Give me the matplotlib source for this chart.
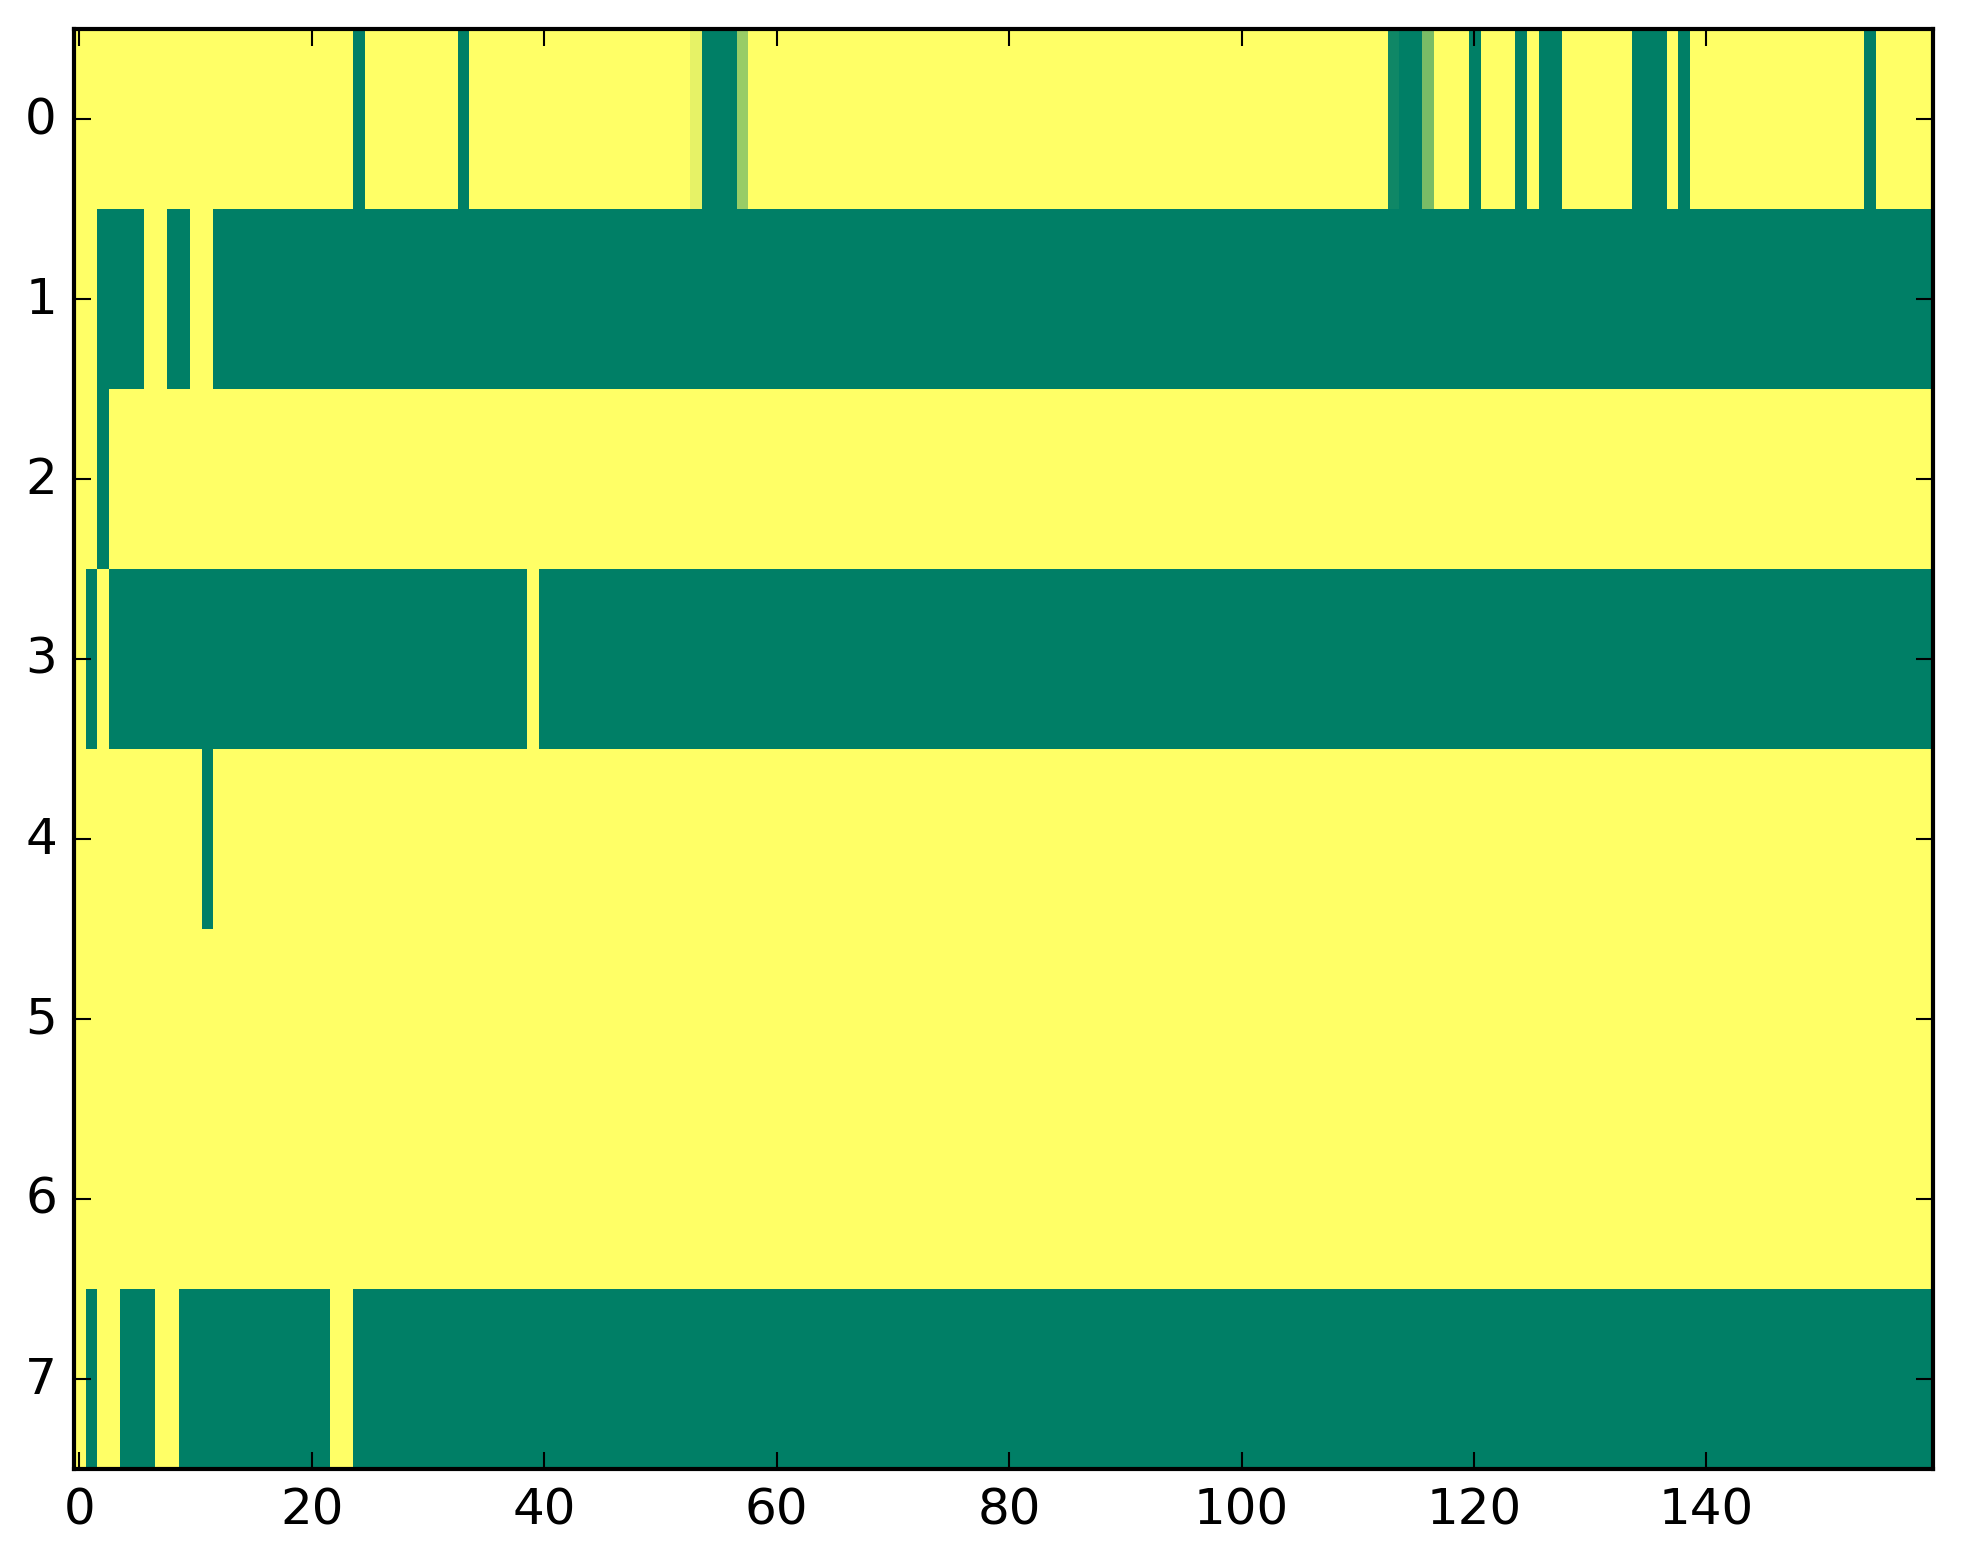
import numpy as np
import matplotlib
matplotlib.use("Agg")
import matplotlib.pyplot as plt

# each row is run-length encoded: (value, number of columns)
row0 = [(1, 24), (0, 1), (1, 8), (0, 1), (1, 19), (0.9, 1), (0, 3), (0.6, 1),
        (1, 55), (0.06, 1), (0, 2), (0.48, 1), (1, 3), (0, 1), (1, 3), (0, 1),
        (1, 1), (0, 2), (1, 6), (0, 3), (1, 1), (0, 1), (1, 15), (0, 1), (1, 5)]
row1 = [(1, 2), (0, 4), (1, 2), (0, 2), (1, 2), (0, 148)]
row2 = [(1, 2), (0, 1), (1, 157)]
row3 = [(1, 1), (0, 1), (1, 1), (0, 36), (1, 1), (0, 120)]
row4 = [(1, 11), (0, 1), (1, 148)]
row5 = [(1, 160)]
row6 = [(1, 160)]
row7 = [(1, 1), (0, 1), (1, 2), (0, 3), (1, 2), (0, 13), (1, 2), (0, 136)]

rows = [row0, row1, row2, row3, row4, row5, row6, row7]


def expand(runs):
    out = []
    for val, n in runs:
        out.extend([val] * n)
    return out


data = np.array([expand(r) for r in rows], dtype=float)

plt.style.use("classic")
fig = plt.figure(figsize=(1963 / 300, 1564 / 300), dpi=300)
ax = fig.add_axes([0.0375, 0.0603, 0.9472, 0.9205])
ax.imshow(data, cmap="summer", aspect="auto", interpolation="nearest",
          vmin=0, vmax=1)
ax.set_xticks(np.arange(0, 160, 20))
ax.set_yticks(np.arange(0, 8))
ax.set_xlim(-0.5, 159.5)
ax.set_ylim(7.5, -0.5)

fig.savefig("out.png", dpi=300)
